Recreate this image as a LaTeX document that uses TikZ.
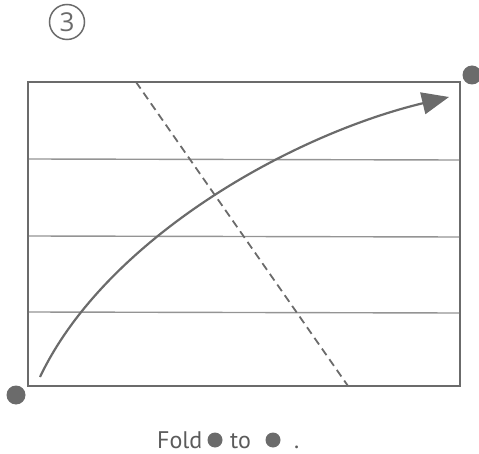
\documentclass[tikz,border=0pt]{standalone}
\usepackage{fontspec}
\setmainfont{PT Sans}
\newfontfamily\digitfont{Open Sans}
\usetikzlibrary{arrows.meta}
\definecolor{inkgray}{gray}{0.42}
\definecolor{rulegray}{gray}{0.58}

\begin{document}
\begin{tikzpicture}[
    x=1pt, y=-1pt,
    sheet/.style={draw=inkgray, line width=2.2pt},
    crease/.style={draw=rulegray, line width=1.4pt},
    foldline/.style={draw=inkgray, line width=1.8pt, dash pattern=on 8pt off 5pt},
    corner/.style={circle, fill=inkgray, inner sep=0pt, minimum size=19pt},
    bullet/.style={circle, fill=inkgray, inner sep=0pt, minimum size=15pt},
    label/.style={text=inkgray!85!black, inner sep=0pt, anchor=base west, font=\fontsize{24}{28}\selectfont}
]
\useasboundingbox (0,0) rectangle (479,454);

\node[circle, draw=inkgray, line width=1.5pt, minimum size=35pt, inner sep=0pt,
      text=inkgray, font=\digitfont\fontsize{26}{30}\selectfont] (stepno) at (67,22) {3};

\draw[sheet] (28,82) rectangle (460,386);

\draw[crease] (29,159) -- (459,160);
\draw[crease] (29,236) -- (459,237);
\draw[crease] (29,312) -- (459,313);

\coordinate (foldtop) at (136,82);
\coordinate (foldbot) at (348,386);
\draw[foldline] (foldtop) -- (foldbot);

\coordinate (arcstart) at (40,377);
\coordinate (arcend) at (449,97);
\draw[draw=inkgray, line width=2.2pt, -{Triangle[length=27pt, width=22pt]}]
    (arcstart) .. controls (105,240) and (290,135) .. (arcend);

\node[corner] (cornerTR) at (472,75) {};
\node[corner] (cornerBL) at (16,395) {};

\node[label] (foldword) at (157,448) {Fold};
\node[bullet] (dotA) at (215,440) {};
\node[label] (toword) at (230,448) {to};
\node[bullet] (dotB) at (273,440) {};
\node[label] (stop) at (294,448) {.};

\end{tikzpicture}
\end{document}
